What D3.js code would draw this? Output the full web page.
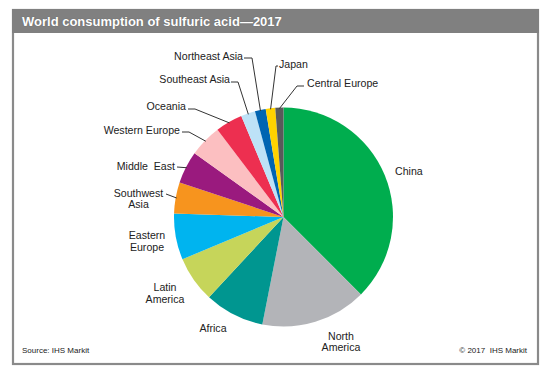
<!DOCTYPE html>
<html><head><meta charset="utf-8">
<script src="https://cdn.jsdelivr.net/npm/d3@7"></script>
<style>body{margin:0;background:#fff}svg{display:block}text{font-family:"Liberation Sans",Arial,sans-serif}</style>
</head><body><svg id="c" width="547" height="379"></svg>
<script>
const regions = ["China","North America","Africa","Latin America","Eastern Europe","Southwest Asia","Middle East","Western Europe","Oceania","Southeast Asia","Northeast Asia","Japan","Central Europe"];
const shares = [37.5,15.6,8.8,6.8,6.8,4.6,4.8,4.8,4.0,2.1,1.6,1.4,1.2];
const colors = ["#00ad4e","#b3b4b8","#009690","#c6d55a","#00b4ef","#f7941e","#9a1a7e","#fcbfc1","#ed2f50","#bde2f7","#0065b2","#ffd200","#5a5a5a"];
const titleText = "World consumption of sulfuric acid\u20142017";
const sourceText = "Source: IHS Markit";
const copyText = "\u00a9 2017  IHS Markit";

// label layout: [lines], x, first baseline, anchor, leader elbow points (or null)
const layout = {
  "China":{lines:["China"],x:395,y:175,a:"start",lead:null},
  "North America":{lines:["North","America"],x:341,y:339.5,a:"middle",lead:null},
  "Africa":{lines:["Africa"],x:213,y:332,a:"middle",lead:null},
  "Latin America":{lines:["Latin","America"],x:165,y:291,a:"middle",lead:null},
  "Eastern Europe":{lines:["Eastern","Europe"],x:147,y:239,a:"middle",lead:null},
  "Southwest Asia":{lines:["Southwest","Asia"],x:138.5,y:196.5,a:"middle",lead:[[166,194]]},
  "Middle East":{lines:["Middle  East"],x:175,y:169.5,a:"end",lead:[[177,167]]},
  "Western Europe":{lines:["Western Europe"],x:180,y:134,a:"end",lead:[[182,132],[189,132]]},
  "Oceania":{lines:["Oceania"],x:186,y:109.5,a:"end",lead:[[188,109],[195,109]]},
  "Southeast Asia":{lines:["Southeast Asia"],x:230,y:83,a:"end",lead:[[231,82],[238,82]]},
  "Northeast Asia":{lines:["Northeast Asia"],x:243,y:60,a:"end",lead:[[244,58],[252,58]]},
  "Japan":{lines:["Japan"],x:279,y:68,a:"start",lead:[[278,66],[276,66]]},
  "Central Europe":{lines:["Central Europe"],x:307,y:87,a:"start",lead:[[304,86],[297,86]]}
};

const svg = d3.select("#c");
// frame
svg.append("rect").attr("x",13).attr("y",10).attr("width",525).attr("height",354)
  .attr("fill","#fff").attr("stroke","#8a8a8a").attr("stroke-width",2.2);
svg.append("rect").attr("x",12).attr("y",9).attr("width",527).attr("height",24).attr("fill","#808080");
svg.append("text").attr("x",22).attr("y",26).attr("fill","#fff").attr("font-weight","bold")
  .attr("font-size",13).style("text-shadow","0 0 1px #555").text(titleText);

const cx = 283.5, cy = 217, R = 109.5;
const g = svg.append("g").attr("transform",`translate(${cx},${cy})`);
const data = regions.map((r,i)=>({name:r,value:shares[i],color:colors[i]}));
const pie = d3.pie().sort(null).value(d=>d.value).startAngle(0).endAngle(2*Math.PI);
const arcs = pie(data);
const arc = d3.arc().innerRadius(0).outerRadius(R);
const edge = d3.arc().innerRadius(R-1).outerRadius(R-1);
g.selectAll("path.s").data(arcs).join("path").attr("class","s")
  .attr("d",arc).attr("fill",d=>d.data.color);

// leaders
arcs.forEach(d=>{
  const L = layout[d.data.name];
  if(!L.lead) return;
  const c = edge.centroid(d);
  const pts = L.lead.concat([[c[0]+cx,c[1]+cy]]);
  svg.append("path").attr("d",d3.line()(pts)).attr("fill","none")
    .attr("stroke","#333").attr("stroke-width",1);
});
// labels
arcs.forEach(d=>{
  const L = layout[d.data.name];
  const t = svg.append("text").attr("text-anchor",L.a).attr("font-size",10.6).attr("fill","#222");
  L.lines.forEach((ln,i)=>t.append("tspan").attr("x",L.x).attr("y",L.y+i*11.5).style("white-space","pre").text(ln));
});

svg.append("text").attr("x",22).attr("y",353).attr("font-size",8).attr("fill","#222").text(sourceText);
svg.append("text").attr("x",527).attr("y",353).attr("text-anchor","end").attr("font-size",8).attr("fill","#222").style("white-space","pre").text(copyText);
</script></body></html>
